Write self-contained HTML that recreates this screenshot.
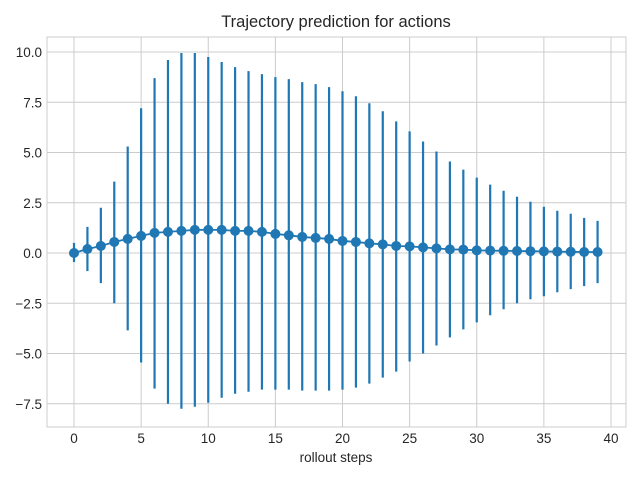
<!DOCTYPE html>
<html><head><meta charset="utf-8"><style>
body{margin:0;background:#fff}
svg text{font-family:"Liberation Sans",Arial,sans-serif;fill:#262626}
</style></head><body>
<svg id="chart" width="640" height="480" xmlns="http://www.w3.org/2000/svg">
<rect width="640" height="480" fill="#fff"/>
<g id="grid"></g>
<g id="ticks"></g>
<g id="series"></g>
<rect x="47" y="37" width="579" height="390" fill="none" stroke="#cccccc" stroke-width="1"/>
<text x="336" y="27" text-anchor="middle" font-size="16.5">Trajectory prediction for actions</text>
<text x="336" y="462" text-anchor="middle" font-size="13.5">rollout steps</text>
</svg>
<script>
const means=[0,0.2,0.35,0.55,0.7,0.85,1.0,1.05,1.1,1.15,1.15,1.15,1.1,1.1,1.05,0.95,0.88,0.8,0.75,0.7,0.6,0.55,0.48,0.43,0.35,0.33,0.28,0.23,0.18,0.17,0.13,0.12,0.11,0.1,0.09,0.08,0.07,0.06,0.05,0.05];
const upper=[0.5,1.3,2.25,3.55,5.3,7.2,8.7,9.6,9.95,9.95,9.75,9.5,9.25,9.05,8.9,8.75,8.65,8.5,8.4,8.25,8.05,7.8,7.45,7.05,6.55,6.05,5.55,5.05,4.55,4.15,3.75,3.4,3.1,2.8,2.55,2.3,2.1,1.95,1.75,1.6];
const lower=[-0.45,-0.9,-1.5,-2.5,-3.85,-5.45,-6.75,-7.5,-7.75,-7.65,-7.45,-7.2,-7.0,-6.9,-6.8,-6.8,-6.8,-6.85,-6.85,-6.85,-6.8,-6.7,-6.5,-6.2,-5.9,-5.4,-5.0,-4.6,-4.2,-3.8,-3.45,-3.1,-2.8,-2.5,-2.3,-2.15,-1.95,-1.8,-1.65,-1.5];
const xTicks=[0,5,10,15,20,25,30,35,40];
const yTicks=[-7.5,-5.0,-2.5,0.0,2.5,5.0,7.5,10.0];
const NS="http://www.w3.org/2000/svg";
const X=v=>74+v*(611-74)/40;
const Y=v=>253-v*(253-52)/10;
function mk(tag,attrs,parent){const e=document.createElementNS(NS,tag);for(const k in attrs)e.setAttribute(k,attrs[k]);parent.appendChild(e);return e;}
const grid=document.getElementById('grid'),ticks=document.getElementById('ticks'),series=document.getElementById('series');
xTicks.forEach(t=>{
 const l=mk('line',{x1:X(t),x2:X(t),y1:37,y2:427,stroke:'#cccccc','stroke-width':1},grid);
 
 
 const tx=mk('text',{x:X(t),y:443,'text-anchor':'middle','font-size':13.5},ticks);
 tx.textContent=String(t);
 
 
});
yTicks.forEach(t=>{
 const l=mk('line',{x1:47,x2:626,y1:Y(t),y2:Y(t),stroke:'#cccccc','stroke-width':1},grid);
 
 
 const tx=mk('text',{x:42,y:Y(t)+5,'text-anchor':'end','font-size':13.5},ticks);
 tx.textContent=(t<0?'\u2212':'')+Math.abs(t).toFixed(1);
 
 
});
means.forEach((m,i)=>{
 const e=mk('line',{x1:X(i),x2:X(i),y1:Y(upper[i]),y2:Y(lower[i]),stroke:'#1f77b4','stroke-width':2.2},series);
 
 
});
const pl=mk('polyline',{points:means.map((m,i)=>X(i)+','+Y(m)).join(' '),fill:'none',stroke:'#1f77b4','stroke-width':1.8},series);


means.forEach((m,i)=>{
 const c=mk('circle',{cx:X(i),cy:Y(m),r:5,fill:'#1f77b4'},series);
 
 
});
</script>
</body></html>
